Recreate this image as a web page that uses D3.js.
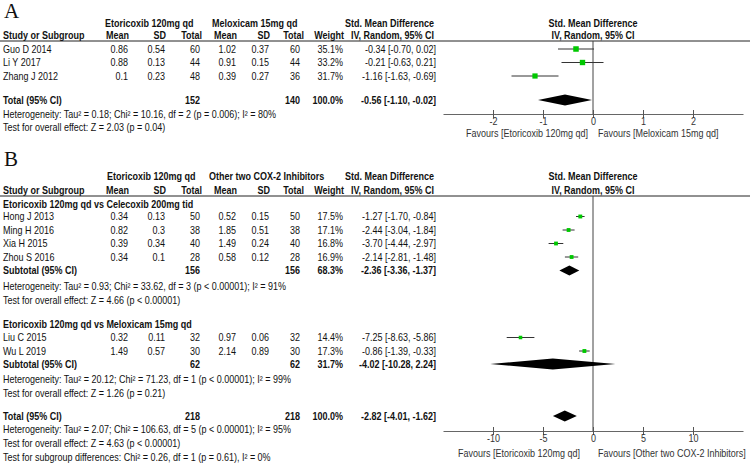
<!DOCTYPE html>
<html><head><meta charset="utf-8">
<script src="https://cdn.jsdelivr.net/npm/d3@7"></script>
<style>
body{margin:0;background:#fff;}
svg{display:block;}
text{font-family:"Liberation Sans",Arial,sans-serif;font-size:10px;fill:#111;}
.b{font-weight:bold;}
.lab{font-family:"Liberation Serif","Times New Roman",serif;font-size:21px;font-weight:normal;}
.tick text{font-size:10px;fill:#333;font-family:"Liberation Sans",Arial,sans-serif;}
</style></head>
<body>
<svg id="c" width="750" height="465"></svg>
<script>
// ---------- Panel A data ----------
const studiesA = ["Guo D 2014", "Li Y 2017", "Zhang J 2012"];
const etoMeanA = [0.86, 0.88, 0.1];
const etoSdA = [0.54, 0.13, 0.23];
const etoNA = [60, 44, 48];
const melMeanA = [1.02, 0.91, 0.39];
const melSdA = [0.37, 0.15, 0.27];
const melNA = [60, 44, 36];
const weightA = [35.1, 33.2, 31.7];
const smdA = [-0.34, -0.21, -1.16];
const loA = [-0.70, -0.63, -1.63];
const hiA = [0.02, 0.21, -0.69];
const totalA = {n1: 152, n2: 140, w: 100.0, est: -0.56, lo: -1.10, hi: -0.02};
const hetA = "Heterogeneity: Tau\u00B2 = 0.18; Chi\u00B2 = 10.16, df = 2 (p = 0.006); I\u00B2 = 80%";
const testA = "Test for overall effect: Z = 2.03 (p = 0.04)";
const ticksA = [-2, -1, 0, 1, 2];

// ---------- Panel B data ----------
const subgroupNames = ["Etoricoxib 120mg qd vs Celecoxib 200mg tid", "Etoricoxib 120mg qd vs Meloxicam 15mg qd"];
const studiesB1 = ["Hong J 2013", "Ming H 2016", "Xia H 2015", "Zhou S 2016"];
const etoMeanB1 = [0.34, 0.82, 0.39, 0.34];
const etoSdB1 = [0.13, 0.3, 0.34, 0.1];
const etoNB1 = [50, 38, 40, 28];
const othMeanB1 = [0.52, 1.85, 1.49, 0.58];
const othSdB1 = [0.15, 0.51, 0.24, 0.12];
const othNB1 = [50, 38, 40, 28];
const weightB1 = [17.5, 17.1, 16.8, 16.9];
const smdB1 = [-1.27, -2.44, -3.70, -2.14];
const loB1 = [-1.70, -3.04, -4.44, -2.81];
const hiB1 = [-0.84, -1.84, -2.97, -1.48];
const subB1 = {n1: 156, n2: 156, w: 68.3, est: -2.36, lo: -3.36, hi: -1.37};
const hetB1 = "Heterogeneity: Tau\u00B2 = 0.93; Chi\u00B2 = 33.62, df = 3 (p < 0.00001); I\u00B2 = 91%";
const testB1 = "Test for overall effect: Z = 4.66 (p < 0.00001)";

const studiesB2 = ["Liu C 2015", "Wu L 2019"];
const etoMeanB2 = [0.32, 1.49];
const etoSdB2 = [0.11, 0.57];
const etoNB2 = [32, 30];
const othMeanB2 = [0.97, 2.14];
const othSdB2 = [0.06, 0.89];
const othNB2 = [32, 30];
const weightB2 = [14.4, 17.3];
const smdB2 = [-7.25, -0.86];
const loB2 = [-8.63, -1.39];
const hiB2 = [-5.86, -0.33];
const subB2 = {n1: 62, n2: 62, w: 31.7, est: -4.02, lo: -10.28, hi: 2.24};
const hetB2 = "Heterogeneity: Tau\u00B2 = 20.12; Chi\u00B2 = 71.23, df = 1 (p < 0.00001); I\u00B2 = 99%";
const testB2 = "Test for overall effect: Z = 1.26 (p = 0.21)";

const totalB = {n1: 218, n2: 218, w: 100.0, est: -2.82, lo: -4.01, hi: -1.62};
const hetB = "Heterogeneity: Tau\u00B2 = 2.07; Chi\u00B2 = 106.63, df = 5 (p < 0.00001); I\u00B2 = 95%";
const testB = "Test for overall effect: Z = 4.63 (p < 0.00001)";
const testSubB = "Test for subgroup differences: Chi\u00B2 = 0.26, df = 1 (p = 0.61), I\u00B2 = 0%";
const ticksB = [-10, -5, 0, 5, 10];

// ---------- layout ----------
const svg = d3.select("#c");
const SX = 0.9; // horizontal glyph compression to match the narrow reference font
const col = {name: 3, m1: 128, s1: 165, n1: 200, m2: 236, s2: 269, n2: 300, w: 343, ci: 436};
const GREEN = "#00c800";
const fmtCI = (e, l, h) => `${e.toFixed(2)} [${l.toFixed(2)}, ${h.toFixed(2)}]`;

function txt(x, y, s, anchor, bold, fill) {
  const t = svg.append("text").attr("transform", `translate(${x},${y}) scale(${SX},1)`)
    .attr("dy", "0.35em").attr("text-anchor", anchor || "start")
    .attr("class", bold ? "b" : null).text(s);
  if (fill) t.style("fill", fill);
  return t;
}

function header(y1, y2, g1, g1x, g2, g2x, lineY) {
  txt(g1x, y1, g1, "start", true);
  txt(g2x, y1, g2, "start", true);
  txt(434, y1, "Std. Mean Difference", "end", true);
  txt(593, y1, "Std. Mean Difference", "middle", true);
  txt(col.name, y2, "Study or Subgroup", "start", true);
  txt(col.m1 + 1, y2, "Mean", "end", true);
  txt(col.s1 + 1, y2, "SD", "end", true);
  txt(col.n1 + 2, y2, "Total", "end", true);
  txt(col.m2 + 1, y2, "Mean", "end", true);
  txt(col.s2 + 1, y2, "SD", "end", true);
  txt(col.n2 + 4, y2, "Total", "end", true);
  txt(col.w + 1, y2, "Weight", "end", true);
  txt(434, y2, "IV, Random, 95% CI", "end", true);
  txt(593, y2, "IV, Random, 95% CI", "middle", true);
  svg.append("line").attr("x1", 0).attr("x2", 750).attr("y1", lineY).attr("y2", lineY)
    .attr("stroke", "#222").attr("stroke-width", 1);
}

function studyRows(ys, x, names, m1, s1, n1, m2, s2, n2, w, est, lo, hi, sizeK) {
  names.forEach((nm, i) => {
    const y = ys[i];
    txt(col.name, y, nm);
    txt(col.m1, y, String(m1[i]), "end");
    txt(col.s1, y, String(s1[i]), "end");
    txt(col.n1, y, String(n1[i]), "end");
    txt(col.m2, y, String(m2[i]), "end");
    txt(col.s2, y, String(s2[i]), "end");
    txt(col.n2, y, String(n2[i]), "end");
    txt(col.w, y, w[i].toFixed(1) + "%", "end");
    txt(col.ci, y, fmtCI(est[i], lo[i], hi[i]), "end");
    svg.append("line").attr("x1", x(lo[i])).attr("x2", x(hi[i])).attr("y1", y).attr("y2", y)
      .attr("stroke", "#333").attr("stroke-width", 1);
    const s = Math.sqrt(w[i]) * sizeK;
    svg.append("rect").attr("x", x(est[i]) - s / 2).attr("y", y - s / 2)
      .attr("width", s).attr("height", s).attr("fill", GREEN);
  });
}

function totalRow(y, x, label, t, h) {
  txt(col.name, y, label, "start", true);
  txt(col.n1, y, String(t.n1), "end", true);
  txt(col.n2, y, String(t.n2), "end", true);
  txt(col.w, y, t.w.toFixed(1) + "%", "end", true);
  txt(col.ci, y, fmtCI(t.est, t.lo, t.hi), "end", true);
  const pts = [[x(t.lo), y], [x(t.est), y - h], [x(t.hi), y], [x(t.est), y + h]];
  svg.append("path").attr("d", d3.line()(pts) + "Z").attr("fill", "#000");
}

function axis(x, y, ticks, top, favL, favR, favLEnd, favY) {
  svg.append("line").attr("x1", x(0)).attr("x2", x(0)).attr("y1", top).attr("y2", y)
    .attr("stroke", "#444").attr("stroke-width", 1);
  const g = svg.append("g").attr("transform", `translate(0,${y})`)
    .call(d3.axisBottom(x).tickValues(ticks).tickFormat(d3.format("d")).tickSizeOuter(0).tickSizeInner(4).tickPadding(0));
  g.select(".domain").attr("stroke", "#666");
  g.selectAll(".tick line").attr("y1", -4).attr("y2", 4).attr("stroke", "#555");
  g.selectAll(".tick text").text(d => d < 0 ? "-" + Math.abs(d) : String(d))
    .attr("transform", `scale(${SX},1)`);
  txt(favLEnd, favY, favL, "end", false, "#333");
  txt(598, favY, favR, "start", false, "#333");
}

// ---------- Panel A ----------
svg.append("text").attr("x", 4).attr("y", 18).attr("class", "lab").text("A");
const xA = d3.scaleLinear().domain([-3, 3]).range([443, 743]);
header(23, 35, "Etoricoxib 120mg qd", 105, "Meloxicam 15mg qd", 212, 41);
axis(xA, 114, ticksA, 41, "Favours [Etoricoxib 120mg qd]", "Favours [Meloxicam 15mg qd]", 588, 133);
studyRows([49, 62.5, 76], xA, studiesA, etoMeanA, etoSdA, etoNA, melMeanA, melSdA, melNA, weightA, smdA, loA, hiA, 0.93);
totalRow(100, xA, "Total (95% CI)", totalA, 5.5);
txt(col.name, 114, hetA);
txt(col.name, 127, testA);

// ---------- Panel B ----------
svg.append("text").attr("x", 4).attr("y", 166).attr("class", "lab").text("B");
const xB = d3.scaleLinear().domain([-15, 15]).range([443, 743]);
header(176, 190, "Etoricoxib 120mg qd", 107, "Other two COX-2 Inhibitors", 209, 196);
axis(xB, 431, ticksB, 196, "Favours [Etoricoxib 120mg qd]", "Favours [Other two COX-2 Inhibitors]", 580, 453);

txt(col.name, 204, subgroupNames[0], "start", true);
studyRows([216.5, 230, 243.5, 257], xB, studiesB1, etoMeanB1, etoSdB1, etoNB1, othMeanB1, othSdB1, othNB1, weightB1, smdB1, loB1, hiB1, 0.93);
totalRow(270.5, xB, "Subtotal (95% CI)", subB1, 5);
txt(col.name, 286, hetB1);
txt(col.name, 300, testB1);

txt(col.name, 324, subgroupNames[1], "start", true);
studyRows([337.5, 351], xB, studiesB2, etoMeanB2, etoSdB2, etoNB2, othMeanB2, othSdB2, othNB2, weightB2, smdB2, loB2, hiB2, 0.93);
totalRow(364, xB, "Subtotal (95% CI)", subB2, 5.5);
txt(col.name, 379, hetB2);
txt(col.name, 393, testB2);

totalRow(416, xB, "Total (95% CI)", totalB, 5.5);
txt(col.name, 429.5, hetB);
txt(col.name, 443, testB);
txt(col.name, 457, testSubB);
</script>
</body></html>
